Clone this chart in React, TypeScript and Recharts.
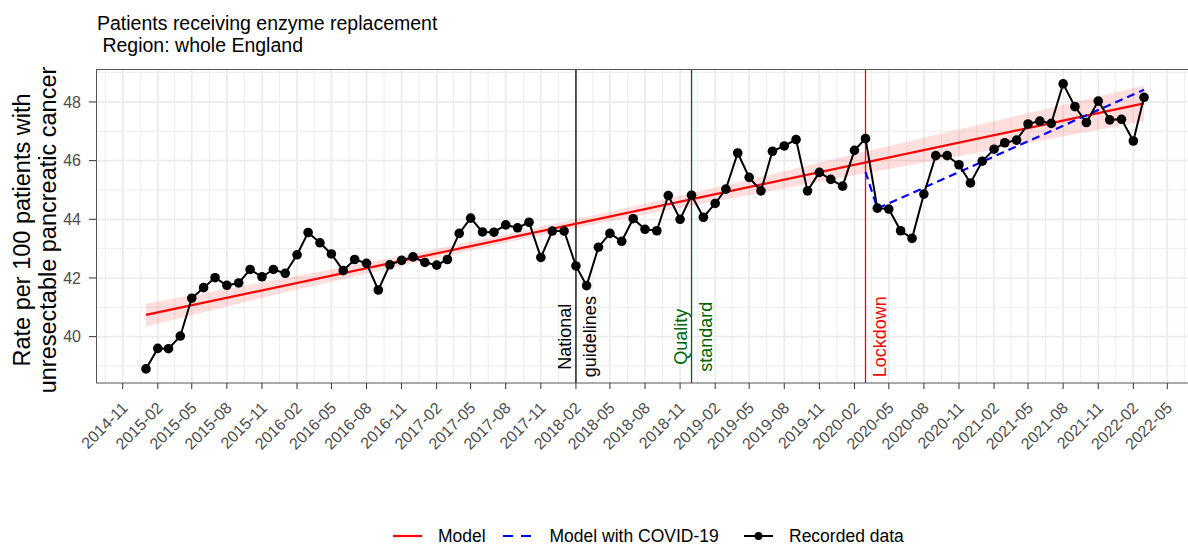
import React from 'react';
import {
  ComposedChart, Line, Area, XAxis, YAxis, CartesianGrid, ReferenceLine, ReferenceDot,
} from 'recharts';

// monthly recorded rate, first value is 2015-01
const firstMonth = '2015-01';
const recorded = [
  38.90, 39.60, 39.59, 40.02, 41.31, 41.67, 42.01, 41.75, 41.83, 42.29, 42.04, 42.29,
  42.16, 42.79, 43.55, 43.20, 42.82, 42.25, 42.63, 42.50, 41.59, 42.45, 42.60, 42.72,
  42.53, 42.44, 42.63, 43.52, 44.04, 43.57, 43.56, 43.81, 43.71, 43.90, 42.70, 43.60,
  43.60, 42.41, 41.74, 43.05, 43.52, 43.25, 44.02, 43.66, 43.61, 44.81, 44.00, 44.82,
  44.07, 44.54, 45.03, 46.26, 45.43, 44.97, 46.32, 46.50, 46.72, 44.97, 45.60, 45.36,
  45.13, 46.35, 46.75, 44.38, 44.35, 43.61, 43.35, 44.86, 46.17, 46.17, 45.86, 45.24,
  45.98, 46.39, 46.61, 46.70, 47.25, 47.35, 47.27, 48.62, 47.84, 47.30, 48.03, 47.39,
  47.41, 46.67, 48.16,
];

const modelMonths = ['2015-01', '2022-03'];
const modelValues = [40.74, 47.95];

const ribbonMonths = ['2015-01', '2016-01', '2017-01', '2017-08', '2018-04', '2019-01', '2020-03', '2021-03', '2022-03'];
const ribbonLow = [40.35, 41.51, 42.60, 43.20, 43.86, 44.54, 45.57, 46.45, 47.34];
const ribbonHigh = [41.13, 41.99, 42.91, 43.48, 44.17, 44.98, 46.31, 47.43, 48.56];

const covidMonths = ['2020-03', '2020-04', '2022-03'];
const covidValues = [45.62, 44.37, 48.42];

const eventMonths = ['2018-02', '2018-12', '2020-03'];
const eventLines = [['National', 'guidelines'], ['Quality', 'standard'], ['', 'Lockdown']];
const eventColors = ['#000000', '#006400', '#FF0000'];

const xTickLabels = [
  '2014-11', '2015-02', '2015-05', '2015-08', '2015-11', '2016-02', '2016-05', '2016-08',
  '2016-11', '2017-02', '2017-05', '2017-08', '2017-11', '2018-02', '2018-05', '2018-08',
  '2018-11', '2019-02', '2019-05', '2019-08', '2019-11', '2020-02', '2020-05', '2020-08',
  '2020-11', '2021-02', '2021-05', '2021-08', '2021-11', '2022-02', '2022-05',
];
const yTicks = [40, 42, 44, 46, 48];
const yMinor = [39, 41, 43, 45, 47, 49];

const parseMonth = (m: string) => {
  const [y, mo] = m.split('-').map(Number);
  return Date.UTC(y, mo - 1, 1);
};
const fmtMonth = (v: number) => {
  const d = new Date(v);
  return `${d.getUTCFullYear()}-${String(d.getUTCMonth() + 1).padStart(2, '0')}`;
};

const X_MIN = Date.UTC(2014, 7, 23);
const X_MAX = Date.UTC(2022, 6, 10);
const Y_MIN = 38.42;
const Y_MAX = 49.09;

const W = 1200;
const H = 545;
const MARGIN = { top: 70, right: 6, bottom: 102, left: 0 };
const Y_AXIS_W = 96;
const X_AXIS_H = 60;

const start = parseMonth(firstMonth);
const recordedData = recorded.map((v, i) => {
  const d = new Date(start);
  return { t: Date.UTC(d.getUTCFullYear(), d.getUTCMonth() + i, 1), v };
});
const modelData = modelMonths.map((m, i) => ({ t: parseMonth(m), v: modelValues[i] }));
const ribbonData = ribbonMonths.map((m, i) => ({ t: parseMonth(m), band: [ribbonLow[i], ribbonHigh[i]] }));
const covidData = covidMonths.map((m, i) => ({ t: parseMonth(m), v: covidValues[i] }));

const xTicks = xTickLabels.map(parseMonth);
const xMinor: number[] = [];
xTicks.forEach((t, i) => {
  if (i === 0) xMinor.push(t - (xTicks[1] - t) / 2);
  if (i < xTicks.length - 1) xMinor.push((t + xTicks[i + 1]) / 2);
  else xMinor.push(t + (t - xTicks[i - 1]) / 2);
});

const plotBox = {
  left: MARGIN.left + Y_AXIS_W,
  top: MARGIN.top,
  width: W - MARGIN.left - MARGIN.right - Y_AXIS_W,
  height: H - MARGIN.top - MARGIN.bottom - X_AXIS_H,
};

const xPix = (t: number, off?: any) => {
  const o = off && off.width ? off : plotBox;
  return o.left + ((t - X_MIN) / (X_MAX - X_MIN)) * o.width;
};
const yPix = (v: number, off?: any) => {
  const o = off && off.height ? off : plotBox;
  return o.top + ((Y_MAX - v) / (Y_MAX - Y_MIN)) * o.height;
};

const XTick = ({ x, y, payload }: any) => (
  <g transform={`translate(${x + 6},${y + 18})`}>
    <text textAnchor="end" transform="rotate(-45)" fill="#4D4D4D" fontSize={16}>
      {fmtMonth(payload.value)}
    </text>
  </g>
);

const eventLabel = (lines: string[], color: string) => ({ cx, cy }: any) => (
  <g>
    {lines[0] && (
      <text transform={`translate(${cx - 5},${cy}) rotate(-90)`} textAnchor="middle" fill={color} fontSize={18}>
        {lines[0]}
      </text>
    )}
    <text transform={`translate(${cx + 20},${cy}) rotate(-90)`} textAnchor="middle" fill={color} fontSize={18}>
      {lines[1]}
    </text>
  </g>
);

export default function App() {
  return (
    <div
      style={{
        position: 'absolute', left: 0, top: 0, width: 1188, height: H, overflow: 'hidden',
        background: '#fff', fontFamily: '"Liberation Sans", Arial, sans-serif',
      }}
    >
      <ComposedChart width={W} height={H} margin={MARGIN}>
        <CartesianGrid
          stroke="#EBEBEB"
          strokeWidth={0.9}
          verticalCoordinatesGenerator={({ offset }: any) => xMinor.map((t) => xPix(t, offset))}
          horizontalCoordinatesGenerator={({ offset }: any) => yMinor.map((v) => yPix(v, offset))}
        />
        <CartesianGrid
          stroke="#EBEBEB"
          strokeWidth={1.7}
          verticalCoordinatesGenerator={({ offset }: any) => xTicks.map((t) => xPix(t, offset))}
          horizontalCoordinatesGenerator={({ offset }: any) => yTicks.map((v) => yPix(v, offset))}
        />
        <XAxis
          dataKey="t"
          type="number"
          domain={[X_MIN, X_MAX]}
          allowDataOverflow
          ticks={xTicks}
          height={X_AXIS_H}
          axisLine={false}
          tickSize={6}
          tickLine={{ stroke: '#333333' }}
          tick={<XTick />}
          interval={0}
        />
        <YAxis
          type="number"
          domain={[Y_MIN, Y_MAX]}
          allowDataOverflow
          ticks={yTicks}
          width={Y_AXIS_W}
          axisLine={false}
          tickSize={7}
          tickMargin={8}
          tickLine={{ stroke: '#333333' }}
          tick={{ fill: '#4D4D4D', fontSize: 16 }}
        />
        {eventMonths.map((m, i) => (
          <ReferenceLine key={m} x={parseMonth(m)} stroke={eventColors[i]} strokeWidth={1.3} />
        ))}
        <Area
          data={ribbonData}
          dataKey="band"
          type="linear"
          stroke="none"
          fill="#FF0000"
          fillOpacity={0.13}
          isAnimationActive={false}
          activeDot={false}
        />
        <Line data={modelData} dataKey="v" type="linear" stroke="#FF0000" strokeWidth={2.2} dot={false} activeDot={false} isAnimationActive={false} />
        <Line data={covidData} dataKey="v" type="linear" stroke="#0000FF" strokeWidth={2.2} strokeDasharray="8 5" dot={false} activeDot={false} isAnimationActive={false} />
        <Line
          data={recordedData}
          dataKey="v"
          type="linear"
          stroke="#000000"
          strokeWidth={2}
          dot={{ r: 4.8, fill: '#000000', stroke: '#000000', strokeWidth: 0 }}
          activeDot={false}
          isAnimationActive={false}
        />
        {eventMonths.map((m, i) => (
          <ReferenceDot key={`lab-${m}`} x={parseMonth(m)} y={40} r={0} shape={eventLabel(eventLines[i], eventColors[i])} />
        ))}
      </ComposedChart>

      <svg width={1188} height={H} style={{ position: 'absolute', left: 0, top: 0, pointerEvents: 'none' }}>
        <rect x={plotBox.left + 0.5} y={plotBox.top - 0.5} width={plotBox.width} height={plotBox.height + 0.5} fill="none" stroke="#555555" strokeWidth={1} />
        <text x={97} y={29.5} fontSize={19.5} fill="#000">Patients receiving enzyme replacement</text>
        <text x={97} y={52} fontSize={19.5} fill="#000" style={{ whiteSpace: 'pre' }}> Region: whole England</text>
        <text transform="translate(30,230) rotate(-90)" textAnchor="middle" fontSize={23.5} fill="#000">Rate per 100 patients with</text>
        <text transform="translate(55.5,230) rotate(-90)" textAnchor="middle" fontSize={23.5} fill="#000">unresectable pancreatic cancer</text>

        <line x1={393} x2={422} y1={536} y2={536} stroke="#FF0000" strokeWidth={2.2} />
        <text x={438} y={541.5} fontSize={17.5} fill="#000">Model</text>
        <line x1={503} x2={532} y1={536} y2={536} stroke="#0000FF" strokeWidth={2.2} strokeDasharray="10 8" />
        <text x={549.5} y={541.5} fontSize={17.5} fill="#000">Model with COVID-19</text>
        <line x1={744} x2={773} y1={536} y2={536} stroke="#000" strokeWidth={2} />
        <circle cx={758.5} cy={536} r={4} fill="#000" />
        <text x={789} y={541.5} fontSize={17.5} fill="#000">Recorded data</text>
      </svg>
    </div>
  );
}
